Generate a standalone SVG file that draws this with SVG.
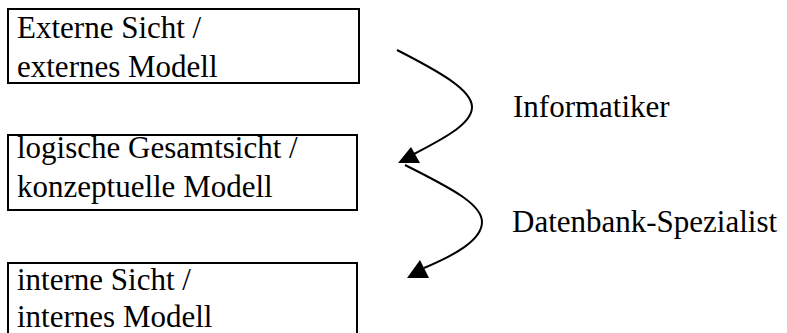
<svg xmlns="http://www.w3.org/2000/svg" width="787" height="333" viewBox="0 0 787 333">
<style>
.box{fill:#fff;stroke:#000;stroke-width:2}
.t{font-family:'Liberation Serif','Times New Roman','DejaVu Serif',serif;font-size:31px;fill:#000}
.c{fill:none;stroke:#000;stroke-width:2}
.ah{fill:#000;stroke:none}
</style>
<rect width="787" height="333" fill="#fff"/>
<g id="node-extern">
<rect class="box" x="8" y="9" width="351" height="74"/>
<text class="t" x="17" y="38" font-family="Liberation Serif, serif">Externe Sicht /</text>
<text class="t" x="17" y="77" font-family="Liberation Serif, serif">externes Modell</text>
</g>
<g id="node-logisch">
<rect class="box" x="8" y="135" width="349" height="75"/>
<text class="t" x="17" y="158">logische Gesamtsicht /</text>
<text class="t" x="17" y="197">konzeptuelle Modell</text>
</g>
<g id="node-intern">
<rect class="box" x="8" y="263" width="349" height="80"/>
<text class="t" x="17" y="290">interne Sicht /</text>
<text class="t" x="17" y="327">internes Modell</text>
</g>
<g id="connectors">
<path class="c" d="M397,50 C440,72 472,90 472,107 C472,125 440,140 414,154"/>
<polygon class="ah" points="398,163 411,147 420,163"/>
<path class="c" d="M405,165 C455,190 482,205 482,222 C482,240 455,255 424,268"/>
<polygon class="ah" points="407,278 420,260 429,278"/>
<text class="t" x="513" y="117">Informatiker</text>
<text class="t" x="512" y="232">Datenbank-Spezialist</text>
</g>
</svg>
